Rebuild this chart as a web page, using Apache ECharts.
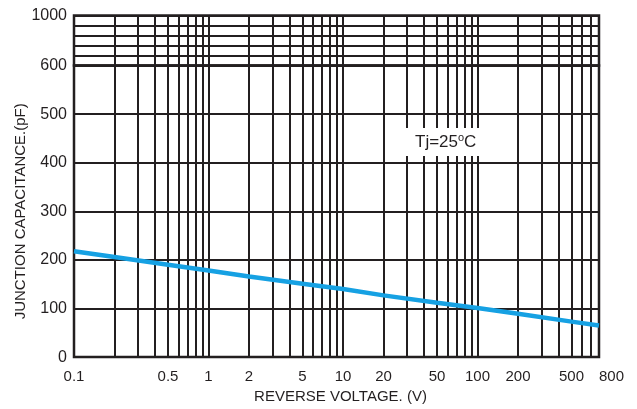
<!DOCTYPE html>
<html>
<head>
<meta charset="utf-8">
<script src="https://cdn.jsdelivr.net/npm/echarts@6/dist/echarts.min.js"></script>
<style>
html,body{margin:0;padding:0;background:#fff;}
#chart{width:637px;height:409px;}
</style>
</head>
<body>
<div id="chart"></div>
<script>
// Reverse voltage (V) sample points
const voltage = [0.1, 0.2, 0.5, 1, 2, 5, 10, 20, 50, 100, 200, 500, 800];
// Junction capacitance (pF) at those voltages
const capacitance = [218, 206, 190, 178, 166, 151, 140, 127, 112, 101, 89, 73, 65];

// Log-paper vertical grid lines
const xGridValues = [0.1,0.2,0.3,0.4,0.5,0.6,0.7,0.8,0.9,
  1,2,3,4,5,6,7,8,9,
  10,20,30,40,50,60,70,80,90,
  100,200,300,400,500,600,700,800];
// X tick labels
const xTickLabels = [0.1, 0.5, 1, 2, 5, 10, 20, 50, 100, 200, 500, 800];
// Y lower (linear) section ticks
const yLowerTicks = [0, 100, 200, 300, 400, 500, 600];
// Y upper (compressed) section ticks
const yUpperTicks = [600, 680, 760, 840, 920, 1000];
const yUpperLabels = [1000];

const INK = '#231f20';
const FONT = 'Liberation Sans, Arial, sans-serif';

function fmt(v){ return String(Number(Number(v).toPrecision(4))); }

const chart = echarts.init(document.getElementById('chart'), null, {renderer:'canvas'});

const gridLine = {show:true, lineStyle:{color:INK, width:2}};

chart.setOption({
  animation:false,
  backgroundColor:'#fff',
  grid:[
    {left:74, right:38, top:65.5, height:300, show:true, borderColor:INK, borderWidth:2.5, backgroundColor:'transparent'},
    {left:74, right:38, top:15.5, height:50, show:true, borderColor:INK, borderWidth:2.5, backgroundColor:'transparent'}
  ],
  xAxis:[
    {
      type:'log', logBase:10, gridIndex:0, min:0.1, max:800,
      axisLine:{show:false},
      axisTick:{show:false, customValues:xGridValues},
      splitLine:gridLine,
      axisLabel:{customValues:xTickLabels, formatter:fmt, fontFamily:FONT, fontSize:15, color:INK, margin:12, alignMaxLabel:'left'},
      name:'REVERSE VOLTAGE. (V)', nameLocation:'middle', nameGap:31,
      nameTextStyle:{fontFamily:FONT, fontSize:15, color:INK, padding:[0,0,0,8]}
    },
    {
      type:'log', logBase:10, gridIndex:1, min:0.1, max:800,
      axisLine:{show:false},
      axisTick:{show:false, customValues:xGridValues},
      splitLine:gridLine,
      axisLabel:{show:false}
    }
  ],
  yAxis:[
    {
      type:'value', gridIndex:0, min:0, max:600, interval:100,
      axisLine:{show:false}, axisTick:{show:false, customValues:yLowerTicks},
      splitLine:gridLine,
      axisLabel:{customValues:yLowerTicks, fontFamily:FONT, fontSize:16, color:INK, margin:7, formatter:(v)=>String(v)},
      name:'JUNCTION CAPACITANCE.(pF)', nameLocation:'middle', nameGap:46, nameRotate:90,
      nameTextStyle:{fontFamily:FONT, fontSize:15, color:INK}
    },
    {
      type:'value', gridIndex:1, min:600, max:1000,
      axisLine:{show:false},
      axisTick:{show:false, customValues:yUpperTicks},
      splitLine:gridLine,
      axisLabel:{customValues:yUpperLabels, fontFamily:FONT, fontSize:16, color:INK, margin:7, formatter:(v)=>String(v)}
    }
  ],
  series:[
    {
      name:'Cj', type:'line', xAxisIndex:0, yAxisIndex:0,
      data: voltage.map((v,i)=>[v, capacitance[i]]),
      showSymbol:false, symbol:'none', smooth:false,
      lineStyle:{color:'#16a1e3', width:4.5},
      z:5
    }
  ],
  graphic:[
    {type:'rect', left:396, top:128, shape:{width:86, height:28}, style:{fill:'#fff'}, z:50},
    {type:'text', left:415, top:132, z:51,
      style:{
        text:'{n|Tj=25}{s|o}{n|C}',
        fill:INK,
        rich:{
          n:{fontSize:17, lineHeight:19, fill:INK, fontFamily:FONT, verticalAlign:'bottom'},
          s:{fontSize:11, lineHeight:11, fill:INK, fontFamily:FONT, verticalAlign:'top'}
        }
      }
    }
  ]
});
</script>
</body>
</html>
